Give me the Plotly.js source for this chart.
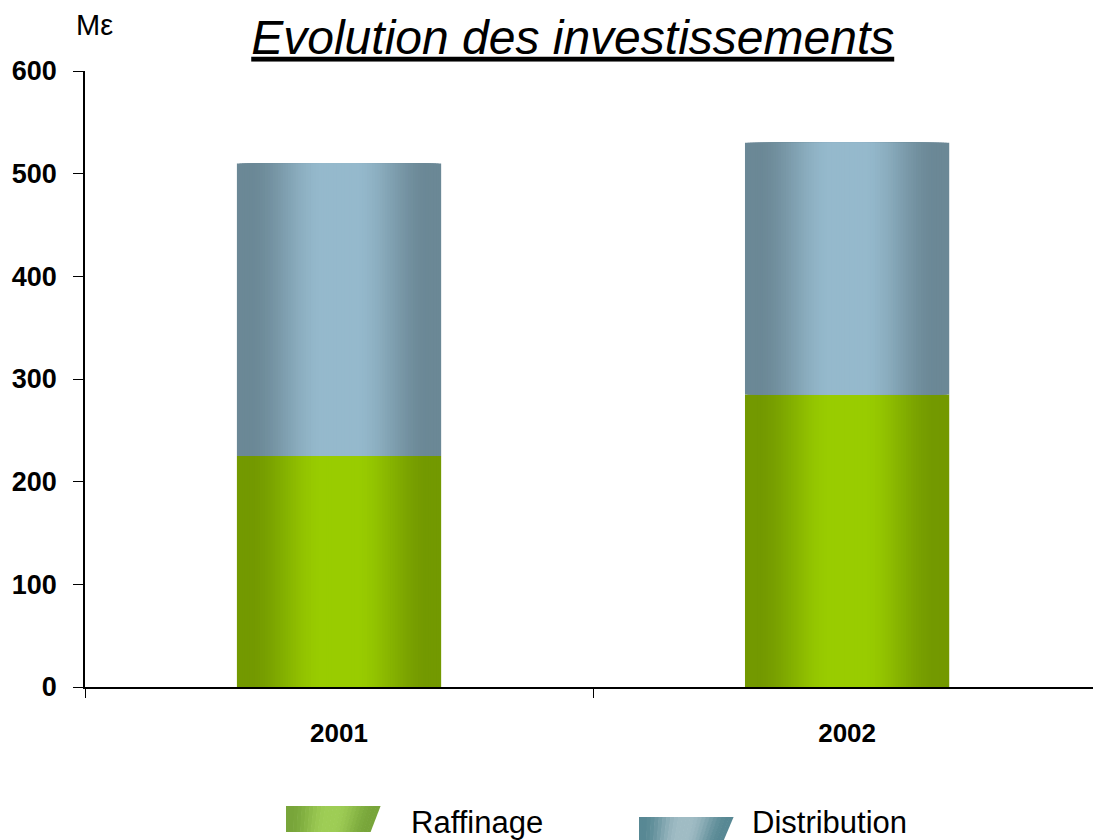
<!DOCTYPE html>
<html>
<head>
<meta charset="utf-8">
<script src="https://cdn.plot.ly/plotly-3.0.1.min.js"></script>
<style>
  html, body { margin: 0; padding: 0; background: #fff; }
  #chart { width: 1093px; height: 840px; }
</style>
</head>
<body>
<div id="chart"></div>
<script>
// données (M€)
const years = ['2001', '2002'];
const raffinage = [225, 285];
const distribution = [285, 245];
const seriesNames = ['Raffinage', 'Distribution'];
const yTicks = [0, 100, 200, 300, 400, 500, 600];

const FONT = 'Liberation Sans, Arial, sans-serif';
const BAR_W = 0.402;
const LAYERS = 40;

// dégradé horizontal : bords foncés, centre clair
const GREEN = { edge: [115, 153, 0], mid: [153, 204, 0] };
const BLUE = { edge: [107, 136, 150], mid: [149, 185, 204] };
const LEG_GREEN = { edge: [120, 165, 58], mid: [158, 205, 85] };
const LEG_BLUE = { edge: [88, 136, 148], mid: [160, 188, 196] };

function mix(g, t) {
  const c = g.edge.map((v, i) => Math.round(v + (g.mid[i] - v) * t));
  return `rgb(${c[0]},${c[1]},${c[2]})`;
}
function smooth(a, b, x) {
  const t = Math.min(1, Math.max(0, (x - a) / (b - a)));
  return t * t * (3 - 2 * t);
}

const traces = [];
function addGradientBars(name, vals, base, grad) {
  for (let k = 0; k < LAYERS; k++) {
    const u = (k + 0.5) / LAYERS;
    traces.push({
      type: 'bar', x: years, y: vals, base: base,
      width: BAR_W * (1 - k / LAYERS),
      name: name, showlegend: false,
      marker: { color: mix(grad, smooth(0.12, 0.85, u)), line: { width: 0 } },
      hoverinfo: k === 0 ? 'x+y+name' : 'skip',
    });
  }
}
addGradientBars(seriesNames[0], raffinage, [0, 0], GREEN);
addGradientBars(seriesNames[1], distribution, raffinage, BLUE);

// légende dessinée : parallélogrammes en dégradé
const px = x => (x - 85) / 1008;
const py = y => (687 - y) / 616;
function swatch(x0, xTop, xBot, y0, y1, grad) {
  const out = [];
  const n = 24;
  for (let i = 0; i < n; i++) {
    const a = i / n, b = (i + 1) / n;
    const u = 1 - Math.abs((a + b) / 2 - 0.5) * 2;
    const ta = x0 + a * (xTop - x0), tb = x0 + b * (xTop - x0) + 0.6;
    const ba = x0 + a * (xBot - x0), bb = x0 + b * (xBot - x0) + 0.6;
    out.push({
      type: 'path', xref: 'paper', yref: 'paper',
      path: `M${px(ta)},${py(y0)} L${px(tb)},${py(y0)} L${px(bb)},${py(y1)} L${px(ba)},${py(y1)} Z`,
      fillcolor: mix(grad, smooth(0.1, 0.9, u)), line: { width: 0 },
    });
  }
  return out;
}
const shapes = [
  ...swatch(286, 380, 370, 806, 832, LEG_GREEN),
  ...swatch(639, 733, 722, 817, 843, LEG_BLUE),
];

const layout = {
  width: 1093, height: 840,
  paper_bgcolor: '#fff', plot_bgcolor: '#fff',
  margin: { l: 85, r: 0, t: 71, b: 153 },
  barmode: 'overlay',
  showlegend: false,
  font: { family: FONT, color: '#000' },
  title: {
    text: 'Evolution des investissements',
    xref: 'container', yref: 'container',
    x: 0.524, y: 0.956, xanchor: 'center', yanchor: 'middle',
    font: { family: FONT, size: 48, style: 'italic', lineposition: 'under', color: '#000' },
  },
  xaxis: {
    type: 'category', range: [-0.5, 1.484],
    tickson: 'boundaries', ticks: 'outside', ticklen: 9, tickwidth: 1, tickcolor: '#000',
    showline: true, linecolor: '#000', linewidth: 1.5,
    showgrid: false, zeroline: false,
    ticklabelstandoff: 22,
    tickfont: { family: FONT, size: 26, weight: 'bold', color: '#000' },
  },
  yaxis: {
    range: [0, 600], tickvals: yTicks,
    ticks: 'outside', ticklen: 10, tickwidth: 1, tickcolor: '#000',
    showline: true, linecolor: '#000', linewidth: 1.5,
    showgrid: false, zeroline: false,
    ticklabelstandoff: 11,
    tickfont: { family: FONT, size: 27, weight: 'bold', color: '#000' },
  },
  shapes: shapes,
  annotations: [
    { text: 'Mε', xref: 'paper', yref: 'paper', x: px(74), y: py(25),
      xanchor: 'left', yanchor: 'middle', showarrow: false,
      font: { family: FONT, size: 29, color: '#000' } },
    { text: seriesNames[0], xref: 'paper', yref: 'paper', x: px(409), y: py(822),
      xanchor: 'left', yanchor: 'middle', showarrow: false,
      font: { family: FONT, size: 31, color: '#000' } },
    { text: seriesNames[1], xref: 'paper', yref: 'paper', x: px(750), y: py(822),
      xanchor: 'left', yanchor: 'middle', showarrow: false,
      font: { family: FONT, size: 31, color: '#000' } },
  ],
};

Plotly.newPlot('chart', traces, layout, { displayModeBar: false, responsive: false });
</script>
</body>
</html>
